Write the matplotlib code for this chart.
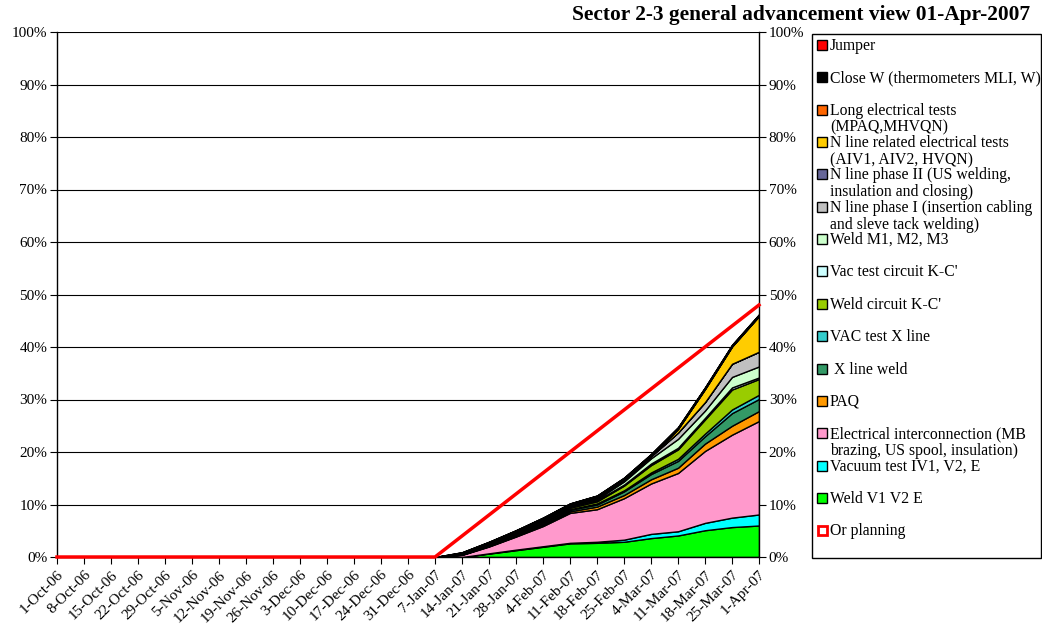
import numpy as np
import matplotlib
matplotlib.use('Agg')
import matplotlib.pyplot as plt
from matplotlib.patches import Rectangle
from matplotlib.ticker import PercentFormatter

plt.rcParams['font.family'] = ['Liberation Serif', 'DejaVu Serif']

# Fechas semanales
dates = ['1-Oct-06', '8-Oct-06', '15-Oct-06', '22-Oct-06', '29-Oct-06', '5-Nov-06',
         '12-Nov-06', '19-Nov-06', '26-Nov-06', '3-Dec-06', '10-Dec-06', '17-Dec-06',
         '24-Dec-06', '31-Dec-06', '7-Jan-07', '14-Jan-07', '21-Jan-07', '28-Jan-07',
         '4-Feb-07', '11-Feb-07', '18-Feb-07', '25-Feb-07', '4-Mar-07', '11-Mar-07',
         '18-Mar-07', '25-Mar-07', '1-Apr-07']

z = [0] * 14  # semanas sin avance (1-Oct-06 .. 31-Dec-06)

# Avance por actividad en % (desde 7-Jan-07)
weld_v1v2e   = z + [0, 0, 0.65, 1.3, 1.95, 2.6, 2.7, 2.9, 3.6, 4.1, 5.1, 5.7, 6.0]
vac_iv1      = z + [0, 0, 0.05, 0.1, 0.1, 0.1, 0.2, 0.4, 0.8, 0.8, 1.4, 1.8, 2.1]
elec_int     = z + [0, 0.4, 1.3, 2.5, 3.85, 5.7, 6.2, 7.9, 9.6, 11.1, 13.7, 15.8, 17.8]
paq          = z + [0, 0.05, 0.1, 0.1, 0.2, 0.3, 0.5, 0.6, 0.8, 1.0, 1.4, 1.7, 1.9]
x_weld       = z + [0, 0.05, 0.1, 0.1, 0.2, 0.3, 0.4, 0.7, 1.0, 1.3, 1.4, 2.4, 2.3]
vac_x        = z + [0, 0, 0.05, 0.1, 0.1, 0.1, 0.2, 0.2, 0.3, 0.4, 0.5, 0.7, 0.8]
weld_kc      = z + [0, 0.1, 0.15, 0.2, 0.3, 0.3, 0.4, 0.9, 1.4, 1.8, 2.7, 3.8, 3.0]
vac_kc       = z + [0, 0, 0.05, 0.1, 0.1, 0.1, 0.2, 0.2, 0.3, 0.3, 0.3, 0.4, 0.3]
weld_m       = z + [0, 0.05, 0.1, 0.1, 0.2, 0.2, 0.2, 0.6, 1.0, 1.7, 1.4, 2.0, 2.1]
nline_1      = z + [0, 0.05, 0.05, 0.1, 0.1, 0.1, 0.3, 0.3, 0.4, 1.2, 1.6, 2.5, 2.8]
nline_2      = z + [0] * 13
nline_elec   = z + [0, 0, 0, 0, 0, 0, 0, 0, 0, 0.7, 2.5, 3.3, 6.8]
long_elec    = z + [0] * 13
close_w      = z + [0, 0.2, 0.3, 0.4, 0.4, 0.4, 0.4, 0.4, 0.4, 0.3, 0.3, 0.3, 0.3]
jumper       = z + [0] * 13

planning     = z + [0, 4, 8, 12, 16, 20, 24, 28, 32, 36, 40, 44, 48]

series = [weld_v1v2e, vac_iv1, elec_int, paq, x_weld, vac_x, weld_kc, vac_kc,
          weld_m, nline_1, nline_2, nline_elec, long_elec, close_w, jumper]
colors = ['#00FF00', '#00FFFF', '#FF99CC', '#FF9900', '#339966', '#33CCCC',
          '#99CC00', '#CCFFFF', '#CCFFCC', '#C0C0C0', '#666699', '#FFCC00',
          '#FF6600', '#000000', '#FF0000']

# Leyenda (de arriba a abajo)
leg_names = ['Jumper', 'Close W (thermometers MLI, W)',
             'Long electrical tests\n(MPAQ,MHVQN)',
             'N line related electrical tests\n(AIV1, AIV2, HVQN)',
             'N line phase II (US welding,\ninsulation and closing)',
             'N line phase I (insertion cabling\nand sleve tack welding)',
             'Weld M1, M2, M3', "Vac test circuit K-C'", "Weld circuit K-C'",
             'VAC test X line', ' X line weld', 'PAQ',
             'Electrical interconnection (MB\nbrazing, US spool, insulation)',
             'Vacuum test IV1, V2, E', 'Weld V1 V2 E', 'Or planning']

W, H = 1042, 634
fig = plt.figure(figsize=(W / 100, H / 100), dpi=100)
ax = fig.add_axes([57 / W, 1 - 557 / H, 702 / W, 525 / H])

x = np.arange(len(dates))
ax.stackplot(x, *series, colors=colors, edgecolor='black', linewidth=1)
ax.plot(x, planning, color='#FF0000', lw=2.5, zorder=5, clip_on=False)

ax.set_xlim(0, len(dates) - 1)
ax.set_ylim(0, 100)
ax.set_yticks(np.arange(0, 101, 10))
ax.yaxis.set_major_formatter(PercentFormatter(decimals=0))
ax.grid(axis='y', color='black', lw=0.8)
ax.set_axisbelow(True)
ax.spines['top'].set_visible(False)
for s in ax.spines.values():
    s.set_linewidth(1)
ax.tick_params(axis='y', which='both', left=True, right=True, labelleft=True,
               labelright=True, direction='out', length=5, labelsize=11, pad=2)
ax.set_xticks(x)
ax.set_xticklabels(dates, rotation=45, ha='right', rotation_mode='anchor', fontsize=11)
ax.tick_params(axis='x', direction='out', length=5, pad=3)

fig.text(1030 / W, 1 - 15 / H, 'Sector 2-3 general advancement view 01-Apr-2007',
         ha='right', va='center', fontsize=15.4, fontweight='bold')

# Cuadro de leyenda
fig.add_artist(Rectangle((812 / W, 1 - 558 / H), 229 / W, 524 / H, transform=fig.transFigure,
                         fill=False, edgecolor='black', lw=1))
leg_colors = colors[::-1] + [None]
for i, (name, c) in enumerate(zip(leg_names, leg_colors)):
    yc = 45 + 32.35 * i
    if c is None:
        sq = Rectangle((818 / W, 1 - (yc + 4.5) / H), 9 / W, 9 / H, transform=fig.transFigure,
                       facecolor='white', edgecolor='#FF0000', lw=2)
    else:
        sq = Rectangle((817 / W, 1 - (yc + 5) / H), 10 / W, 10 / H, transform=fig.transFigure,
                       facecolor=c, edgecolor='black', lw=1)
    fig.add_artist(sq)
    fig.text(830 / W, 1 - (yc - 7) / H, name, ha='left', va='top', fontsize=11.3,
             linespacing=1.08)

fig.savefig('out.png', dpi=100)
